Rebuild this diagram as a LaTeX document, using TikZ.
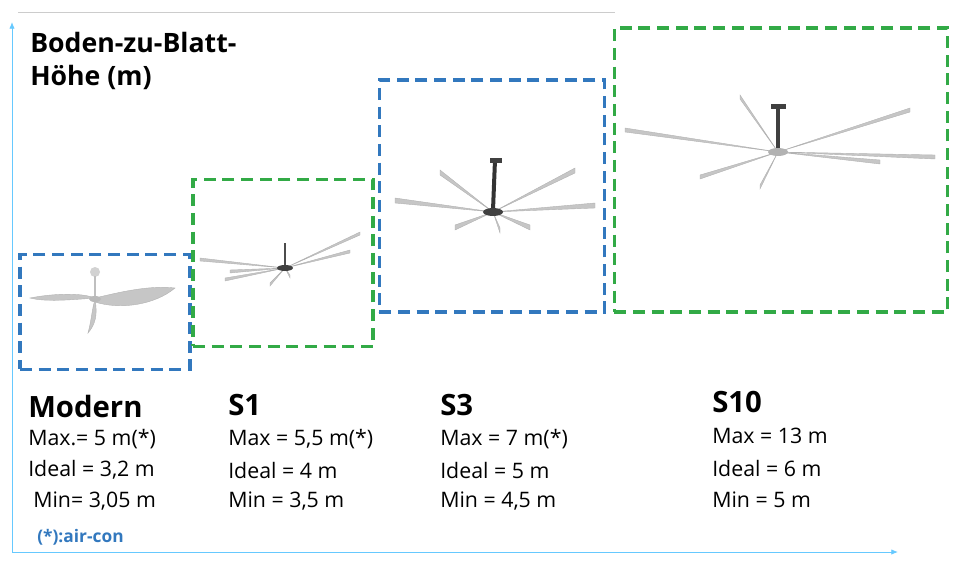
\documentclass[tikz,border=0pt]{standalone}
\usepackage{fontspec}
\setmainfont{Open Sans}
\usetikzlibrary{arrows.meta}
\definecolor{bb}{RGB}{50,120,190}
\definecolor{gg}{RGB}{50,170,70}
\begin{document}
\begin{tikzpicture}[x=0.75pt,y=-0.75pt,
  axis/.style={draw=blue!35!cyan!60!white,line width=0.6pt,-{Latex[length=5pt,width=4pt]}},
  gbox/.style={draw=gg,dash pattern=on 9pt off 5pt,line width=2.6pt},
  bbox/.style={draw=bb,dash pattern=on 9pt off 5pt,line width=2.6pt},
  title/.style={font=\bfseries\fontsize{20}{20}\selectfont,anchor=west,inner sep=0},
  hd/.style={font=\bfseries\fontsize{22}{22}\selectfont,anchor=west,inner sep=0},
  ln/.style={font=\fontsize{16}{16}\selectfont,anchor=west,inner sep=0},
  blade/.style={fill=gray!45,draw=gray!60,line width=0.3pt},
  hub/.style={fill=black!75}]
\useasboundingbox (0,0) rectangle (953,563);
\coordinate (o) at (12,552);
\coordinate (yt) at (12,22);
\coordinate (xr) at (898,552);
\draw[axis] (o) -- (yt);
\draw[axis] (o) -- (xr);
\draw[gray!40,line width=0.5pt] (18,12) -- (615,12);
% boxes
\node[bbox,minimum width=127.5pt,minimum height=86pt,inner sep=0] (b1) at (105,312) {};
\node[gbox,minimum width=135pt,minimum height=125pt,inner sep=0] (g1) at (283,263) {};
\node[bbox,minimum width=169pt,minimum height=174pt,inner sep=0] (b2) at (492,196) {};
\node[gbox,minimum width=250pt,minimum height=213pt,inner sep=0] (g2) at (781,170) {};
% fan Modern
\fill[gray!35] (95,272) circle (5);
\draw[gray!50,line width=1.5pt] (95,276) -- (95,296);
\fill[blade] (95,298) .. controls (70,300) and (45,302) .. (30,298) .. controls (50,294) and (80,292) .. (95,298);
\fill[blade] (95,298) .. controls (120,292) and (150,285) .. (175,288) .. controls (155,305) and (120,310) .. (95,302);
\fill[blade] (95,300) .. controls (98,315) and (95,325) .. (88,333) .. controls (92,318) and (92,308) .. (95,300);
\fill[gray!55] (95,299) ellipse (6 and 3);
% fan S1
\draw[black!70,line width=1.5pt] (285,243) -- (285,266);
\foreach \a/\b in {200/258,225/278,360/232,350/250,290/275,270/283,230/270}{\fill[blade] (285,268) -- (\a,\b) -- (\a,\b+3) -- cycle;}
\fill[hub] (285,268) ellipse (8 and 3);
% fan S3
\draw[black!80,line width=3pt] (495,160) -- (493,210);
\fill[hub] (490,158) rectangle (502,163);
\foreach \a/\b in {395/198,440/170,575/168,595/203,530/225,500/228,455/225}{\fill[blade] (493,212) -- (\a,\b) -- (\a,\b+5) -- cycle;}
\fill[hub] (493,212) ellipse (10 and 4);
% fan S10
\draw[black!75,line width=3.5pt] (778,108) -- (778,150);
\fill[hub] (771,104) rectangle (786,109);
\foreach \a/\b in {625/128,740/95,910/108,935/155,880/160,760/185,700/175}{\fill[blade] (778,152) -- (\a,\b) -- (\a,\b+4) -- cycle;}
\fill[gray!60] (778,152) ellipse (10 and 4);
% texts
\node[title] (t1) at (30,43) {Boden-zu-Blatt-};
\node[title] (t2) at (30,77) {Höhe (m)};
\node[hd] (m0) at (28,406) {Modern};
\node[ln] (m1) at (28,439) {Max.= 5 m(*)};
\node[ln] (m2) at (28,470) {Ideal = 3,2 m};
\node[ln] (m3) at (33,501) {Min= 3,05 m};
\node[font=\bfseries\fontsize{13}{13}\selectfont,text=bb,anchor=west,inner sep=0] (ac) at (37,537) {(*):air-con};
\node[hd] (s10) at (228,405) {S1};
\node[ln] (s11) at (228,439) {Max = 5,5 m(*)};
\node[ln] (s12) at (228,470) {Ideal = 4 m};
\node[ln] (s13) at (228,501) {Min = 3,5 m};
\node[hd] (s30) at (440,405) {S3};
\node[ln] (s31) at (440,439) {Max = 7 m(*)};
\node[ln] (s32) at (440,470) {Ideal = 5 m};
\node[ln] (s33) at (440,501) {Min = 4,5 m};
\node[hd] (x0) at (712,402) {S10};
\node[ln] (x1) at (712,436) {Max = 13 m};
\node[ln] (x2) at (712,468) {Ideal = 6 m};
\node[ln] (x3) at (712,500) {Min = 5 m};
\end{tikzpicture}
\end{document}
